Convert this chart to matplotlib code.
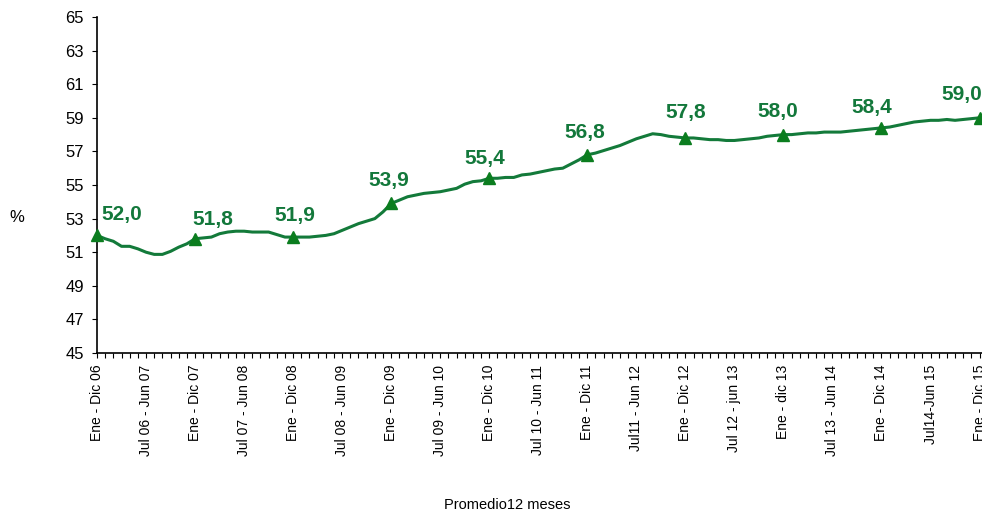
import numpy as np
import matplotlib
matplotlib.use("Agg")
import matplotlib.pyplot as plt
from matplotlib.ticker import MultipleLocator

plt.rcParams['font.family'] = ['Liberation Sans', 'DejaVu Sans']

# promedio 12 meses, mensual desde Ene-Dic 06 hasta Ene-Dic 15
valores = [52.0, 51.8, 51.65, 51.35, 51.35, 51.2, 51.0, 50.87, 50.87, 51.05, 51.3, 51.5,
           51.8, 51.85, 51.9, 52.1, 52.2, 52.25, 52.25, 52.2, 52.2, 52.2, 52.05, 51.9,
           51.9, 51.9, 51.9, 51.95, 52.0, 52.1, 52.3, 52.5, 52.7, 52.85, 53.0, 53.4,
           53.9, 54.1, 54.3, 54.4, 54.5, 54.55, 54.6, 54.7, 54.8, 55.05, 55.2, 55.25,
           55.4, 55.4, 55.45, 55.45, 55.6, 55.65, 55.75, 55.85, 55.95, 56.0, 56.25, 56.5,
           56.8, 56.9, 57.05, 57.2, 57.35, 57.55, 57.75, 57.9, 58.05, 58.0, 57.9, 57.85,
           57.8, 57.8, 57.75, 57.7, 57.7, 57.65, 57.65, 57.7, 57.75, 57.8, 57.9, 57.95,
           58.0, 58.0, 58.05, 58.1, 58.1, 58.15, 58.15, 58.15, 58.2, 58.25, 58.3, 58.35,
           58.4, 58.45, 58.55, 58.65, 58.75, 58.8, 58.85, 58.85, 58.9, 58.85, 58.9, 58.95,
           59.0]

etiquetas_x = ["Ene - Dic 06", "Jul 06 - Jun 07", "Ene - Dic 07", "Jul 07 - Jun 08",
               "Ene - Dic 08", "Jul 08 - Jun 09", "Ene - Dic 09", "Jul 09 - Jun 10",
               "Ene - Dic 10", "Jul 10 - Jun 11", "Ene - Dic 11", "Jul11 - Jun 12",
               "Ene - Dic 12", "Jul 12 - jun 13", "Ene - dic 13", "Jul 13 - Jun 14",
               "Ene - Dic 14", "Jul14-Jun 15", "Ene - Dic 15"]

# puntos anuales (Ene - Dic) con etiqueta
meses_dic = [0, 12, 24, 36, 48, 60, 72, 84, 96, 108]
valores_dic = [52.0, 51.8, 51.9, 53.9, 55.4, 56.8, 57.8, 58.0, 58.4, 59.0]
# desplazamiento de las etiquetas (pixeles)
desp = [(25, 11), (18, 10), (2, 12), (-2, 13), (-4, 10), (-3, 13), (0, 16), (-6, 14), (-10, 11), (-18, 14)]

verde_linea = '#137A3A'
verde_marca = '#0B7D1F'
verde_texto = '#13783B'

fig = plt.figure(figsize=(9.82, 5.12), dpi=100)
ax = fig.add_axes([97/982, 1-353/512, 885/982, 336/512])

x = np.arange(len(valores))
ax.plot(x, valores, color=verde_linea, lw=2.2, solid_capstyle='round', zorder=2)
ax.plot(meses_dic, valores_dic, linestyle='none', marker='^', markersize=8,
        color=verde_marca, markeredgecolor=verde_marca, zorder=3, clip_on=False)

for m, v, (dx, dy) in zip(meses_dic, valores_dic, desp):
    ax.annotate(f"{v:.1f}".replace('.', ','), (m, v), xytext=(dx*0.72, dy*0.72),
                textcoords='offset points', ha='center', va='bottom',
                fontsize=15, fontweight='bold', color=verde_texto, annotation_clip=False)

ax.set_xlim(0, 108.3)
ax.set_ylim(45, 65)
ax.set_yticks(np.arange(45, 66, 2))
ax.set_xticks(np.arange(0, 109, 6))
ax.set_xticklabels(etiquetas_x, rotation=90, fontsize=10)
ax.xaxis.set_minor_locator(MultipleLocator(1))
ax.tick_params(axis='x', which='both', direction='out', length=3.5, width=0.8, pad=5)
ax.tick_params(axis='y', direction='out', length=3.5, width=0.8, labelsize=12, pad=6)
for lbl in ax.get_xticklabels():
    lbl.set_va('top')

ax.spines['top'].set_visible(False)
ax.spines['right'].set_visible(False)
ax.spines['left'].set_linewidth(1.2)
ax.spines['bottom'].set_linewidth(1.2)

fig.text(17/982, 1-218/512, "%", fontsize=12, ha='center', va='center')
fig.text(507/982, 1-505/512, "Promedio12 meses", fontsize=10.5, ha='center', va='center')

fig.savefig("out.png", dpi=100)
